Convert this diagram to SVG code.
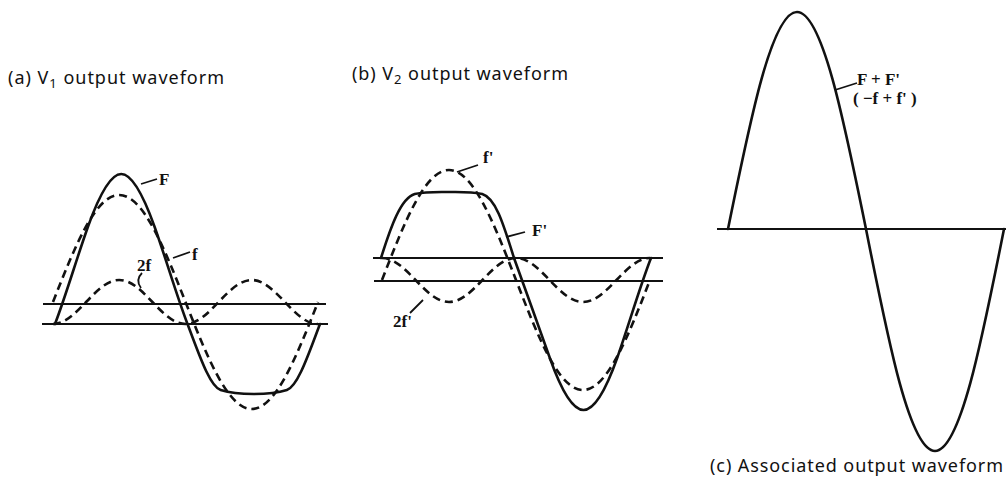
<svg xmlns="http://www.w3.org/2000/svg" width="1007" height="480" viewBox="0 0 1007 480">
<style>
.bg{fill:#fff}
.axis{stroke:#111;stroke-width:2;fill:none}
.solid{stroke:#111;stroke-width:2.6;fill:none;stroke-linecap:round;stroke-linejoin:round}
.dash{stroke:#111;stroke-width:2.6;fill:none;stroke-dasharray:8 5}
.lead{stroke:#111;stroke-width:1.8;fill:none}
.cap{font-family:"Noto Sans","DejaVu Sans",sans-serif;font-size:18px;fill:#111}
.lbl{font-family:"Liberation Serif",serif;font-weight:bold;font-size:17px;fill:#111}
</style>
<rect class="bg" x="0" y="0" width="1007" height="480"/>

<g id="panel-a">
  <text class="cap" x="8" y="84" textLength="216">(a)  V<tspan font-size="13" dy="4">1</tspan><tspan dy="-4"> output waveform</tspan></text>
  <line class="axis" x1="43" y1="304" x2="326" y2="304"/>
  <line class="axis" x1="42" y1="324" x2="328" y2="324"/>
  <path id="F" class="solid" d="M55,324 C66.04,295.2 77.08,257.05 88.13,226.22 C99.17,195.39 110.21,174 121.25,174 C132.29,174 143.33,195.39 154.38,226.22 C165.42,257.05 176.46,295.2 187.5,324 C198.54,352.8 209.58,386.5 220.63,390 C231.67,393.5 242.71,394 253.75,394 C264.79,394 275.83,393.5 286.88,390 C297.92,386.5 308.96,352.8 320,324"/>
  <path id="f" class="dash" d="M53,302 C74.6,247.18 95.27,195 119.25,195 C143.23,195 163.9,247.18 185.5,302 C207.1,356.82 227.77,409 251.75,409 C275.73,409 296.4,356.82 318,302"/>
  <path id="f2" class="dash" d="M53,324 C64.99,324 75.33,313.27 86.13,302 C96.93,290.73 107.26,280 119.25,280 C131.24,280 141.58,290.73 152.38,302 C163.18,313.27 173.51,324 185.5,324 C197.49,324 207.83,313.27 218.63,302 C229.43,290.73 239.76,280 251.75,280 C263.74,280 274.08,290.73 284.88,302 C295.68,313.27 306.01,324 318,324"/>
  <g id="a-leaders">
    <path class="lead" d="M141,184 L157,179"/>
    <path class="lead" d="M173,258 L190,252"/>
    <path class="lead" d="M142,273 Q135,280 141,288"/>
  </g>
  <text class="lbl" x="159" y="185">F</text>
  <text class="lbl" x="192" y="260">f</text>
  <text class="lbl" x="137" y="271">2f</text>
</g>

<g id="panel-b">
  <text class="cap" x="352" y="80" textLength="216">(b)  V<tspan font-size="13" dy="4">2</tspan><tspan dy="-4"> output waveform</tspan></text>
  <line class="axis" x1="373" y1="258" x2="663" y2="258"/>
  <line class="axis" x1="374" y1="281" x2="663" y2="281"/>
  <path id="Fp" class="solid" d="M381,258 C391,226 401,198 414.75,194 C426,191.5 437.25,192 448.5,192 C459.75,192 471,191.5 482.25,194 C496,198 504,226 514,258 C525.5,290 538.5,325.9 549.75,357.78 C561,389.66 572.25,410 583.5,410 C594.75,410 606,389.66 617.25,357.78 C628.5,325.9 639.75,286.8 651,258"/>
  <path id="fp" class="dash" d="M382,280 C403.85,223.65 424.75,170 449,170 C473.25,170 494.15,223.65 516,280 C537.85,336.35 558.75,390 583,390 C607.25,390 628.15,336.35 650,280"/>
  <path id="f2p" class="dash" d="M382,258 C394.12,258 404.58,268.73 415.5,280 C426.42,291.27 436.88,302 449,302 C461.12,302 471.58,291.27 482.5,280 C493.42,268.73 503.88,258 516,258 C528.12,258 538.58,268.73 549.5,280 C560.42,291.27 570.88,302 583,302 C595.12,302 605.58,291.27 616.5,280 C627.42,268.73 637.88,258 650,258"/>
  <g id="b-leaders">
    <path class="lead" d="M457,172 L478,165"/>
    <path class="lead" d="M410,313 L423,300"/>
    <path class="lead" d="M506,237 L525,232"/>
  </g>
  <text class="lbl" x="483" y="163">f'</text>
  <text class="lbl" x="393" y="327">2f'</text>
  <text class="lbl" x="532" y="236">F'</text>
</g>

<g id="panel-c">
  <line class="axis" x1="717" y1="229" x2="1006" y2="229"/>
  <path id="FFp" class="solid" d="M728,229 C750.5,117.83 772.03,12 797,12 C821.97,12 843.5,117.83 866,229 C888.5,342.73 910.03,451 935,451 C959.97,451 981.5,342.73 1004,229"/>
  <path class="lead" d="M835,90 L857,83"/>
  <text class="lbl" x="857" y="85">F + F'</text>
  <text class="lbl" x="853" y="104">( −f + f' )</text>
  <text class="cap" x="710" y="472" textLength="293">(c)  Associated output waveform</text>
</g>
</svg>
